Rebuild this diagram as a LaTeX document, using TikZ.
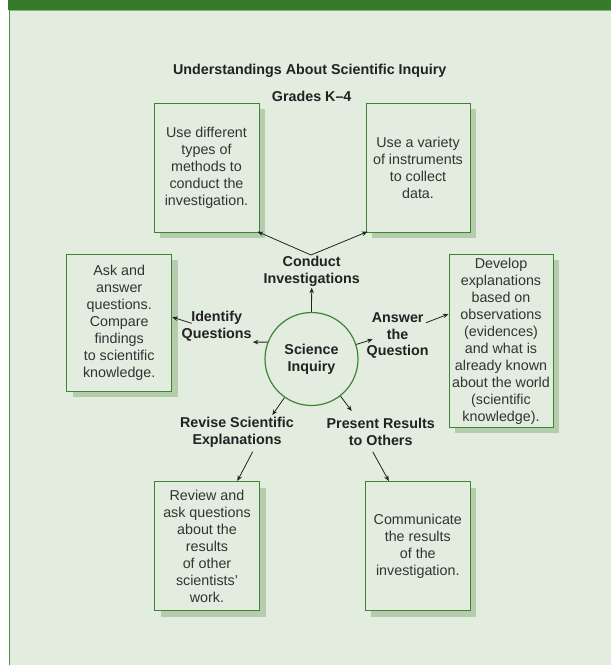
\documentclass[tikz,border=0pt]{standalone}
\usepackage{fontspec}
\setmainfont{Liberation Sans}
\usetikzlibrary{arrows.meta,shadows}
\definecolor{bgpanel}{HTML}{E2EDE0}
\definecolor{barGreen}{HTML}{367A2C}
\definecolor{barEdge}{HTML}{86B27C}
\definecolor{frameGreen}{HTML}{4E8F45}
\definecolor{boxGreen}{HTML}{3D8535}
\definecolor{shadowGreen}{HTML}{B5CCAD}
\definecolor{bodyText}{HTML}{333333}
\definecolor{labelText}{HTML}{222222}
\tikzset{
  txt/.style={font=\fontsize{14.3}{17}\selectfont, text=bodyText, align=center},
  infobox/.style={txt, draw=boxGreen, line width=1pt, fill=bgpanel, inner sep=0pt,
    drop shadow={shadow xshift=6pt, shadow yshift=-6pt, fill=shadowGreen, opacity=1}},
  steplabel/.style={font=\bfseries\fontsize{14.3}{16.7}\selectfont, text=labelText, align=center, inner sep=1pt},
  hub/.style={circle, draw=boxGreen, line width=1.2pt, fill=bgpanel, minimum size=93pt, inner sep=0pt,
    font=\bfseries\fontsize{14.3}{16.7}\selectfont, text=labelText, align=center},
  link/.style={draw=labelText, line width=0.8pt, -{Stealth[length=5.5pt,width=4.5pt]}}
}
\begin{document}
\begin{tikzpicture}[x=1pt,y=-1pt]
  \useasboundingbox (0,0) rectangle (611,665);
  % panel: header bar, left rule and tinted body
  \fill[white] (0,0) rectangle (611,665);
  \fill[bgpanel] (9,10) rectangle (611,665);
  \fill[barGreen] (8,0) rectangle (611,10);
  \draw[barEdge, line width=1pt] (9,10.5) -- (611,10.5);
  \draw[frameGreen, line width=1pt] (9,10) -- (9,665);

  % headings
  \node[steplabel] (title) at (309.7,71) {Understandings About Scientific Inquiry};
  \node[steplabel] (grades) at (311.7,96) {Grades K–4};

  % outcome boxes
  \node[infobox, minimum width=105pt, minimum height=129pt] (tl) at (206.5,167.5)
    {Use different\\types of\\methods to\\conduct the\\investigation.};
  \node[infobox, minimum width=104pt, minimum height=129pt] (tr) at (418,167.5)
    {\rule{0pt}{8pt}Use a variety\\of instruments\\to collect\\data.};
  \node[infobox, minimum width=105pt, minimum height=137pt] (bl2) at (119.2,322.7)
    {Ask and\\answer\\questions.\\Compare\\findings\\to scientific\\knowledge.};
  \node[infobox, minimum width=104pt, minimum height=173pt] (br2) at (501,340.8)
    {Develop\\explanations\\based on\\observations\\(evidences)\\and what is\\already known\\about the world\\(scientific\\knowledge).};
  \node[infobox, minimum width=105pt, minimum height=129pt] (bl) at (207,546)
    {Review and\\ask questions\\about the\\results\\of other\\scientists’\\work.};
  \node[infobox, minimum width=105pt, minimum height=129pt] (br) at (417.8,546)
    {Communicate\\the results\\of the\\investigation.};

  % hub
  \node[hub] (hubc) at (311.5,359) {Science\\Inquiry};

  % step labels
  \node[steplabel] (conduct) at (311.7,271.5) {Conduct\\Investigations};
  \node[steplabel] (identify) at (216.7,326) {Identify\\Questions};
  \node[steplabel] (answer) at (397.7,335.5) {Answer\\the\\Question};
  \node[steplabel] (revise) at (237,432) {Revise Scientific\\Explanations};
  \node[steplabel] (present) at (380.7,432) {Present Results\\to Others};

  % arrow ends next to the label text
  \coordinate (idTail) at (191.7,323.3);
  \coordinate (ansHead) at (372.7,339.3);
  \coordinate (ansTail) at (426,322.7);
  \coordinate (revHead) at (272.3,415);
  \coordinate (preHead) at (351.7,411);
  \coordinate (revTail) at (252.7,451.7);
  \coordinate (preTail) at (372.7,451.7);
  \coordinate (apex) at (311,255);

  % connectors
  \draw[link] (hubc.north) -- (conduct.south);
  \draw[link, shorten >=-2pt] (apex) -- (tl.south east);
  \draw[link, shorten >=-2pt] (apex) -- (tr.south west);
  \draw[link] (hubc.159) -- (identify.south east);
  \draw[link] (idTail) -- (bl2.6);
  \draw[link] (hubc.18) -- (ansHead);
  \draw[link] (ansTail) -- (br2.153);
  \draw[link] (hubc.235.6) -- (revHead);
  \draw[link] (hubc.308) -- (preHead);
  \draw[link] (revTail) -- (bl.65);
  \draw[link] (preTail) -- (br.114);
\end{tikzpicture}
\end{document}
